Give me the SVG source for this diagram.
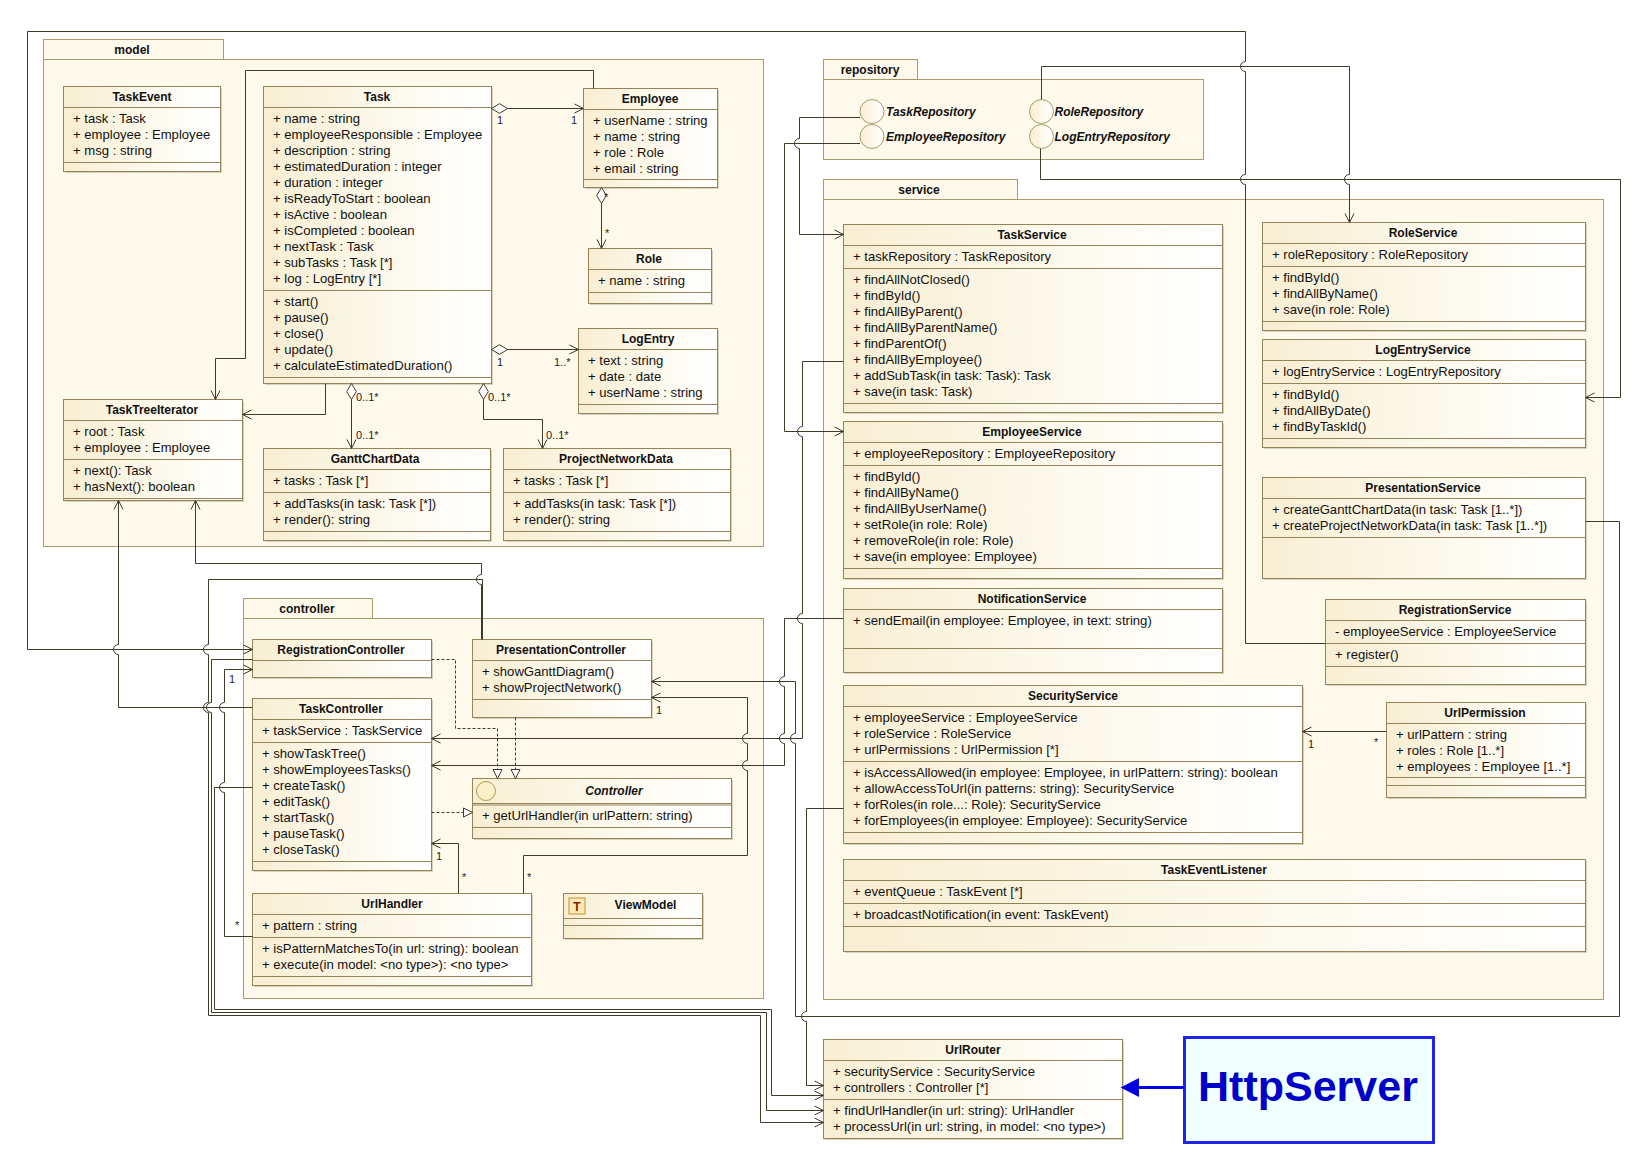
<svg xmlns="http://www.w3.org/2000/svg" width="1646" height="1154" viewBox="0 0 1646 1154">
<style>
text{font-family:"Liberation Sans",Arial,sans-serif;font-size:13.1px;fill:#111}
.b{font-weight:bold;text-anchor:middle;font-size:12px}
.i{font-style:italic;font-weight:bold;font-size:12px}
.m{font-size:11px;fill:#222}
.p{fill:#fef9ea;stroke:#a89b6c;stroke-width:1}
.s{fill:#d9d2bb;stroke:none}
.c{fill:url(#g);stroke:#94845a;stroke-width:1}
.d{fill:none;stroke:#94845a;stroke-width:1}
.l{fill:none;stroke:#423a28;stroke-width:1}
.a{marker-end:url(#open)}
.k{stroke-dasharray:3 2;marker-end:url(#tri)}
.q{marker-start:url(#dia)}
.o{fill:url(#g);stroke:#a89b6c}
</style>
<defs>
<linearGradient id="g" x1="0" y1="0" x2="1" y2="0"><stop offset="0" stop-color="#f8eed2"/><stop offset="0.85" stop-color="#fffefa"/><stop offset="1" stop-color="#fff"/></linearGradient>
<marker id="open" markerUnits="userSpaceOnUse" markerWidth="12" markerHeight="12" refX="10" refY="6" orient="auto" overflow="visible"><path d="M1 1.5L10 6L1 10.5" fill="none" stroke="#423a28"/></marker>
<marker id="tri" markerUnits="userSpaceOnUse" markerWidth="12" markerHeight="12" refX="10" refY="6" orient="auto" overflow="visible"><path d="M1 1.5L10 6L1 10.5Z" fill="#fff" stroke="#423a28"/></marker>
<marker id="dia" markerUnits="userSpaceOnUse" markerWidth="20" markerHeight="12" refX="1" refY="6" orient="auto" overflow="visible"><path d="M1 6L9 1.2L17 6L9 10.8Z" fill="#fff" stroke="#423a28"/></marker>
</defs>
<rect width="1646" height="1154" fill="#fff"/>

<g id="pkg-model"><rect class="p" x="43.5" y="39.5" width="180" height="20"/><rect class="p" x="43.5" y="59.5" width="720" height="487"/><text class="b" x="132" y="54">model</text></g>
<g id="pkg-controller"><rect class="p" x="243.5" y="598.5" width="129" height="20"/><rect class="p" x="243.5" y="618.5" width="520" height="380"/><text class="b" x="307" y="613">controller</text></g>
<g id="pkg-repository"><rect class="p" x="823.5" y="59.5" width="94" height="20"/><rect class="p" x="823.5" y="79.5" width="380" height="80"/><text class="b" x="870" y="74">repository</text></g>
<g id="pkg-service"><rect class="p" x="823.5" y="179.5" width="194" height="20"/><rect class="p" x="823.5" y="199.5" width="780" height="800"/><text class="b" x="919" y="194">service</text></g>

<g id="TaskEvent"><rect class="s" x="65" y="88" width="157" height="85"/><rect class="c" x="63.5" y="86.5" width="157" height="85"/><path class="d" d="M63.5 107.5H220.5M63.5 162.5H220.5"/><text class="b" x="142" y="101">TaskEvent</text><text x="73" y="123">+ task : Task</text><text x="73" y="139">+ employee : Employee</text><text x="73" y="155">+ msg : string</text></g>

<g id="Task"><rect class="s" x="265" y="88" width="228" height="297"/><rect class="c" x="263.5" y="86.5" width="228" height="297"/><path class="d" d="M263.5 107.5H491.5M263.5 290.5H491.5M263.5 377.5H491.5"/><text class="b" x="377" y="101">Task</text>
<text x="273" y="123">+ name : string</text><text x="273" y="139">+ employeeResponsible : Employee</text><text x="273" y="155">+ description : string</text><text x="273" y="171">+ estimatedDuration : integer</text><text x="273" y="187">+ duration : integer</text><text x="273" y="203">+ isReadyToStart : boolean</text><text x="273" y="219">+ isActive : boolean</text><text x="273" y="235">+ isCompleted : boolean</text><text x="273" y="251">+ nextTask : Task</text><text x="273" y="267">+ subTasks : Task [*]</text><text x="273" y="283">+ log : LogEntry [*]</text>
<text x="273" y="306">+ start()</text><text x="273" y="322">+ pause()</text><text x="273" y="338">+ close()</text><text x="273" y="354">+ update()</text><text x="273" y="370">+ calculateEstimatedDuration()</text></g>

<g id="Employee"><rect class="s" x="585" y="90" width="134" height="99"/><rect class="c" x="583.5" y="88.5" width="134" height="99"/><path class="d" d="M583.5 109.5H717.5M583.5 179.5H717.5"/><text class="b" x="650" y="103">Employee</text><text x="593" y="125">+ userName : string</text><text x="593" y="141">+ name : string</text><text x="593" y="157">+ role : Role</text><text x="593" y="173">+ email : string</text></g>

<g id="Role"><rect class="s" x="590" y="250" width="123" height="55"/><rect class="c" x="588.5" y="248.5" width="123" height="55"/><path class="d" d="M588.5 269.5H711.5M588.5 292.5H711.5"/><text class="b" x="649" y="263">Role</text><text x="598" y="285">+ name : string</text></g>

<g id="LogEntry"><rect class="s" x="580" y="330" width="139" height="85"/><rect class="c" x="578.5" y="328.5" width="139" height="85"/><path class="d" d="M578.5 349.5H717.5M578.5 404.5H717.5"/><text class="b" x="648" y="343">LogEntry</text><text x="588" y="365">+ text : string</text><text x="588" y="381">+ date : date</text><text x="588" y="397">+ userName : string</text></g>

<g id="TaskTreeIterator"><rect class="s" x="65" y="401" width="179" height="101"/><rect class="c" x="63.5" y="399.5" width="179" height="101"/><path class="d" d="M63.5 420.5H242.5M63.5 459.5H242.5M63.5 498.5H242.5"/><text class="b" x="152" y="414">TaskTreeIterator</text><text x="73" y="436">+ root : Task</text><text x="73" y="452">+ employee : Employee</text><text x="73" y="475">+ next(): Task</text><text x="73" y="491">+ hasNext(): boolean</text></g>

<g id="GanttChartData"><rect class="s" x="265" y="450" width="227" height="92"/><rect class="c" x="263.5" y="448.5" width="227" height="92"/><path class="d" d="M263.5 469.5H490.5M263.5 492.5H490.5M263.5 531.5H490.5"/><text class="b" x="375" y="463">GanttChartData</text><text x="273" y="485">+ tasks : Task [*]</text><text x="273" y="508">+ addTasks(in task: Task [*])</text><text x="273" y="524">+ render(): string</text></g>

<g id="ProjectNetworkData"><rect class="s" x="505" y="450" width="227" height="92"/><rect class="c" x="503.5" y="448.5" width="227" height="92"/><path class="d" d="M503.5 469.5H730.5M503.5 492.5H730.5M503.5 531.5H730.5"/><text class="b" x="616" y="463">ProjectNetworkData</text><text x="513" y="485">+ tasks : Task [*]</text><text x="513" y="508">+ addTasks(in task: Task [*])</text><text x="513" y="524">+ render(): string</text></g>

<g id="RegistrationController"><rect class="s" x="254" y="641" width="179" height="38"/><rect class="c" x="252.5" y="639.5" width="179" height="38"/><path class="d" d="M252.5 660.5H431.5"/><text class="b" x="341" y="654">RegistrationController</text></g>

<g id="PresentationController"><rect class="s" x="474" y="641" width="179" height="78"/><rect class="c" x="472.5" y="639.5" width="179" height="78"/><path class="d" d="M472.5 660.5H651.5M472.5 699.5H651.5"/><text class="b" x="561" y="654">PresentationController</text><text x="482" y="676">+ showGanttDiagram()</text><text x="482" y="692">+ showProjectNetwork()</text></g>

<g id="TaskController"><rect class="s" x="254" y="700" width="179" height="172"/><rect class="c" x="252.5" y="698.5" width="179" height="172"/><path class="d" d="M252.5 719.5H431.5M252.5 742.5H431.5M252.5 861.5H431.5"/><text class="b" x="341" y="713">TaskController</text><text x="262" y="735">+ taskService : TaskService</text><text x="262" y="758">+ showTaskTree()</text><text x="262" y="774">+ showEmployeesTasks()</text><text x="262" y="790">+ createTask()</text><text x="262" y="806">+ editTask()</text><text x="262" y="822">+ startTask()</text><text x="262" y="838">+ pauseTask()</text><text x="262" y="854">+ closeTask()</text></g>

<g id="Controller"><rect class="s" x="474" y="780" width="259" height="60"/><rect class="c" x="472.5" y="778.5" width="259" height="60"/><path class="d" d="M472.5 803.5H731.5M472.5 805H731.5M472.5 827.5H731.5"/><circle cx="486" cy="791" r="9.5" fill="#fdf0c8" stroke="#b49a50"/><text class="i" x="614" y="795" text-anchor="middle">Controller</text><text x="482" y="820">+ getUrlHandler(in urlPattern: string)</text></g>

<g id="UrlHandler"><rect class="s" x="254" y="895" width="279" height="92"/><rect class="c" x="252.5" y="893.5" width="279" height="92"/><path class="d" d="M252.5 914.5H531.5M252.5 937.5H531.5M252.5 976.5H531.5"/><text class="b" x="392" y="908">UrlHandler</text><text x="262" y="930">+ pattern : string</text><text x="262" y="953">+ isPatternMatchesTo(in url: string): boolean</text><text x="262" y="969">+ execute(in model: &lt;no type&gt;): &lt;no type&gt;</text></g>

<g id="ViewModel"><rect class="s" x="565" y="895" width="139" height="45"/><rect class="c" x="563.5" y="893.5" width="139" height="45"/><path class="d" d="M563.5 918.5H702.5M563.5 925.5H702.5"/><rect x="569" y="898" width="16" height="16" fill="#fbe9b8" stroke="#c8902a"/><text x="577" y="910.5" text-anchor="middle" style="font-weight:bold;fill:#8b1a00;font-size:12px">T</text><text class="b" x="645.5" y="909">ViewModel</text></g>

<g id="TaskRepository"><circle class="o" cx="872" cy="111.5" r="12"/><text class="i" x="886" y="116">TaskRepository</text></g>
<g id="EmployeeRepository"><circle class="o" cx="872" cy="136.5" r="12"/><text class="i" x="886" y="141">EmployeeRepository</text></g>
<g id="RoleRepository"><circle class="o" cx="1041.5" cy="111.5" r="12"/><text class="i" x="1054.5" y="116">RoleRepository</text></g>
<g id="LogEntryRepository"><circle class="o" cx="1041.5" cy="136.5" r="12"/><text class="i" x="1054.5" y="141">LogEntryRepository</text></g>

<g id="TaskService"><rect class="s" x="845" y="226" width="379" height="188"/><rect class="c" x="843.5" y="224.5" width="379" height="188"/><path class="d" d="M843.5 245.5H1222.5M843.5 268.5H1222.5M843.5 403.5H1222.5"/><text class="b" x="1032" y="239">TaskService</text><text x="853" y="261">+ taskRepository : TaskRepository</text><text x="853" y="284">+ findAllNotClosed()</text><text x="853" y="300">+ findById()</text><text x="853" y="316">+ findAllByParent()</text><text x="853" y="332">+ findAllByParentName()</text><text x="853" y="348">+ findParentOf()</text><text x="853" y="364">+ findAllByEmployee()</text><text x="853" y="380">+ addSubTask(in task: Task): Task</text><text x="853" y="396">+ save(in task: Task)</text></g>

<g id="EmployeeService"><rect class="s" x="845" y="423" width="379" height="157"/><rect class="c" x="843.5" y="421.5" width="379" height="157"/><path class="d" d="M843.5 442.5H1222.5M843.5 465.5H1222.5M843.5 568.5H1222.5"/><text class="b" x="1032" y="436">EmployeeService</text><text x="853" y="458">+ employeeRepository : EmployeeRepository</text><text x="853" y="481">+ findById()</text><text x="853" y="497">+ findAllByName()</text><text x="853" y="513">+ findAllByUserName()</text><text x="853" y="529">+ setRole(in role: Role)</text><text x="853" y="545">+ removeRole(in role: Role)</text><text x="853" y="561">+ save(in employee: Employee)</text></g>

<g id="NotificationService"><rect class="s" x="845" y="590" width="379" height="84"/><rect class="c" x="843.5" y="588.5" width="379" height="84"/><path class="d" d="M843.5 609.5H1222.5M843.5 648.5H1222.5"/><text class="b" x="1032" y="603">NotificationService</text><text x="853" y="625">+ sendEmail(in employee: Employee, in text: string)</text></g>

<g id="SecurityService"><rect class="s" x="845" y="687" width="459" height="158"/><rect class="c" x="843.5" y="685.5" width="459" height="158"/><path class="d" d="M843.5 706.5H1302.5M843.5 761.5H1302.5M843.5 832.5H1302.5"/><text class="b" x="1073" y="700">SecurityService</text><text x="853" y="722">+ employeeService : EmployeeService</text><text x="853" y="738">+ roleService : RoleService</text><text x="853" y="754">+ urlPermissions : UrlPermission [*]</text><text x="853" y="777">+ isAccessAllowed(in employee: Employee, in urlPattern: string): boolean</text><text x="853" y="793">+ allowAccessToUrl(in patterns: string): SecurityService</text><text x="853" y="809">+ forRoles(in role...: Role): SecurityService</text><text x="853" y="825">+ forEmployees(in employee: Employee): SecurityService</text></g>

<g id="TaskEventListener"><rect class="s" x="845" y="861" width="742" height="92"/><rect class="c" x="843.5" y="859.5" width="742" height="92"/><path class="d" d="M843.5 880.5H1585.5M843.5 903.5H1585.5M843.5 926.5H1585.5"/><text class="b" x="1214" y="874">TaskEventListener</text><text x="853" y="896">+ eventQueue : TaskEvent [*]</text><text x="853" y="919">+ broadcastNotification(in event: TaskEvent)</text></g>

<g id="RoleService"><rect class="s" x="1264" y="224" width="323" height="108"/><rect class="c" x="1262.5" y="222.5" width="323" height="108"/><path class="d" d="M1262.5 243.5H1585.5M1262.5 266.5H1585.5M1262.5 321.5H1585.5"/><text class="b" x="1423" y="237">RoleService</text><text x="1272" y="259">+ roleRepository : RoleRepository</text><text x="1272" y="282">+ findById()</text><text x="1272" y="298">+ findAllByName()</text><text x="1272" y="314">+ save(in role: Role)</text></g>

<g id="LogEntryService"><rect class="s" x="1264" y="341" width="323" height="108"/><rect class="c" x="1262.5" y="339.5" width="323" height="108"/><path class="d" d="M1262.5 360.5H1585.5M1262.5 383.5H1585.5M1262.5 438.5H1585.5"/><text class="b" x="1423" y="354">LogEntryService</text><text x="1272" y="376">+ logEntryService : LogEntryRepository</text><text x="1272" y="399">+ findById()</text><text x="1272" y="415">+ findAllByDate()</text><text x="1272" y="431">+ findByTaskId()</text></g>

<g id="PresentationService"><rect class="s" x="1264" y="479" width="323" height="101"/><rect class="c" x="1262.5" y="477.5" width="323" height="101"/><path class="d" d="M1262.5 498.5H1585.5M1262.5 537.5H1585.5"/><text class="b" x="1423" y="492">PresentationService</text><text x="1272" y="514">+ createGanttChartData(in task: Task [1..*])</text><text x="1272" y="530">+ createProjectNetworkData(in task: Task [1..*])</text></g>

<g id="RegistrationService"><rect class="s" x="1327" y="601" width="260" height="85"/><rect class="c" x="1325.5" y="599.5" width="260" height="85"/><path class="d" d="M1325.5 620.5H1585.5M1325.5 643.5H1585.5M1325.5 666.5H1585.5"/><text class="b" x="1455" y="614">RegistrationService</text><text x="1335" y="636">- employeeService : EmployeeService</text><text x="1335" y="659">+ register()</text></g>

<g id="UrlPermission"><rect class="s" x="1388" y="704" width="199" height="95"/><rect class="c" x="1386.5" y="702.5" width="199" height="95"/><path class="d" d="M1386.5 723.5H1585.5M1386.5 777.5H1585.5M1386.5 785.5H1585.5"/><text class="b" x="1485" y="717">UrlPermission</text><text x="1396" y="739">+ urlPattern : string</text><text x="1396" y="755">+ roles : Role [1..*]</text><text x="1396" y="771">+ employees : Employee [1..*]</text></g>

<g id="UrlRouter"><rect class="s" x="825" y="1041" width="299" height="99"/><rect class="c" x="823.5" y="1039.5" width="299" height="99"/><path class="d" d="M823.5 1060.5H1122.5M823.5 1099.5H1122.5"/><text class="b" x="973" y="1054">UrlRouter</text><text x="833" y="1076">+ securityService : SecurityService</text><text x="833" y="1092">+ controllers : Controller [*]</text><text x="833" y="1115">+ findUrlHandler(in url: string): UrlHandler</text><text x="833" y="1131">+ processUrl(in url: string, in model: &lt;no type&gt;)</text></g>

<g id="HttpServer"><rect x="1184.5" y="1037.5" width="249" height="105" fill="#f0ffff" stroke="#2222ee" stroke-width="3"/><text x="1308" y="1101" text-anchor="middle" style="font-weight:bold;font-size:43px;fill:#0000c8">HttpServer</text></g>

<g id="connectors">
<path class="l a" d="M593.5 88.5V70.5H245.5V358.5H215.5V399.5"/>
<path class="l a q" d="M491.5 108.5H583.5"/>
<path class="l a q" d="M601.5 187.5V248.5"/>
<path class="l a q" d="M491.5 349.5H578.5"/>
<path class="l a" d="M325.5 383.5V414.5H242.5"/>
<path class="l a q" d="M351.5 383.5V448.5"/>
<path class="l a q" d="M483.5 383.5V419.5H542.5V448.5"/>
<path class="l a" d="M252.5 707.5H118.5V654.5A5 5 0 0 1 118.5 644.5V500.5"/>
<path class="l a" d="M481.5 639.5V584.5A5 5 0 0 1 481.5 574.5V563.5H195.5V500.5"/>
<path class="l a" d="M482.5 639.5V579.5H208.5V644.5A5 5 0 0 0 208.5 654.5V702.5A5 5 0 0 0 208.5 712.5V1015.5H760.5V1122.5H823.5"/>
<path class="l a" d="M252.5 659.5H211.5V702.5A5 5 0 0 0 211.5 712.5V1012.5H766.5V1110.5H823.5"/>
<path class="l a" d="M252.5 787.5H214.5V1009.5H771.5V1095.5H823.5"/>
<path class="l a" d="M252.5 936.5H224.5V792.5A5 5 0 0 1 224.5 782.5V712.5A5 5 0 0 1 224.5 702.5V669.5H252.5"/>
<path class="l a" d="M1325.5 643.5H1245.5V184.5A5 5 0 0 1 1245.5 174.5V71.5A5 5 0 0 1 1245.5 61.5V31.5H27.5V649.5H252.5"/>
<path class="l k" d="M431.5 659.5H455.5V728.5H497.5V778.5"/>
<path class="l k" d="M515.5 717.5V778.5"/>
<path class="l k" d="M431.5 812.5H472.5"/>
<path class="l a" d="M1585.5 521.5H1619.5V1016.5H795.5V743.5A5 5 0 0 1 795.5 733.5V681.5H651.5"/>
<path class="l a" d="M843.5 618.5H784.5V676.5A5 5 0 0 0 784.5 686.5V733.5A5 5 0 0 0 784.5 743.5V765.5H431.5"/>
<path class="l a" d="M843.5 361.5H802.5V426.5A5 5 0 0 0 802.5 436.5V613.5A5 5 0 0 0 802.5 623.5V738.5H431.5"/>
<path class="l a" d="M523.5 893.5V855.5H747.5V770.5A5 5 0 0 1 747.5 760.5V743.5A5 5 0 0 1 747.5 733.5V697.5H651.5"/>
<path class="l a" d="M458.5 893.5V843.5H431.5"/>
<path class="l a" d="M843.5 808.5H806.5V1011.5A5 5 0 0 0 806.5 1021.5V1085.5H823.5"/>
<path class="l a" d="M860 117.5H799.5V138.5A5 5 0 0 0 799.5 148.5V234.5H843.5"/>
<path class="l a" d="M860 143.5H784.5V431.5H843.5"/>
<path class="l a" d="M1041.5 99.5V66.5H1349.5V174.5A5 5 0 0 0 1349.5 184.5V222.5"/>
<path class="l a" d="M1040.5 148.5V179.5H1620.5V397.5H1585.5"/>
<path class="l a" d="M1386.5 731.5H1302.5"/>
<path d="M1184 1087.5H1136" stroke="#0000e0" stroke-width="3" fill="none"/>
<path d="M1120.5 1087.5L1139 1078V1097Z" fill="#0000e0"/>
<text class="m" x="497" y="124">1</text><text class="m" x="571" y="124">1</text>
<text class="m" x="604" y="201">*</text><text class="m" x="605" y="237">*</text>
<text class="m" x="497" y="366">1</text><text class="m" x="554" y="366">1..*</text>
<text class="m" x="356" y="401">0..1*</text><text class="m" x="356" y="439">0..1*</text>
<text class="m" x="488" y="401">0..1*</text><text class="m" x="546" y="439">0..1*</text>
<text class="m" x="229" y="683">1</text><text class="m" x="235" y="929">*</text>
<text class="m" x="656" y="714">1</text><text class="m" x="436" y="860">1</text>
<text class="m" x="462" y="881">*</text><text class="m" x="527" y="881">*</text>
<text class="m" x="1308" y="748">1</text><text class="m" x="1374" y="746">*</text>
</g>
</svg>
